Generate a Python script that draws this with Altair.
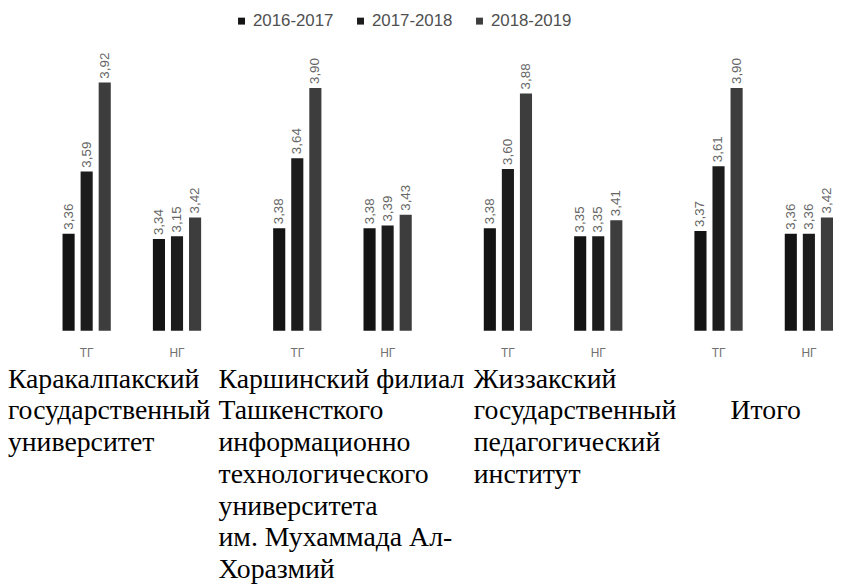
import altair as alt
import pandas as pd

universities = [
    "Каракалпакский|государственный|университет",
    "Каршинский филиал|Ташкенсткого|информационно|технологического|университета|им. Мухаммада Ал-|Хоразмий",
    "Жиззакский|государственный|педагогический|институт",
    "Итого",
]
subgroups = ["ТГ", "НГ"]
years = ["2016-2017", "2017-2018", "2018-2019"]

tg_2016 = [3.36, 3.38, 3.38, 3.37]
tg_2017 = [3.59, 3.64, 3.60, 3.61]
tg_2018 = [3.92, 3.90, 3.88, 3.90]
ng_2016 = [3.34, 3.38, 3.35, 3.36]
ng_2017 = [3.35, 3.39, 3.35, 3.36]
ng_2018 = [3.42, 3.43, 3.41, 3.42]
ng_2017_printed = ["3,15", "3,39", "3,35", "3,36"]

series = {
    ("ТГ", "2016-2017"): tg_2016,
    ("ТГ", "2017-2018"): tg_2017,
    ("ТГ", "2018-2019"): tg_2018,
    ("НГ", "2016-2017"): ng_2016,
    ("НГ", "2017-2018"): ng_2017,
    ("НГ", "2018-2019"): ng_2018,
}

rows = []
for i, u in enumerate(universities):
    for s in subgroups:
        for y in years:
            v = series[(s, y)][i]
            lab = f"{v:.2f}".replace(".", ",")
            if (s, y) == ("НГ", "2017-2018"):
                lab = ng_2017_printed[i]
            rows.append(dict(university=u, sub=s, year=y, key=f"{s}|{y}", value=v, label=lab))
df = pd.DataFrame(rows)

sub_rows = [dict(university=u, sub=s, key=f"{s}|2017-2018") for u in universities for s in subgroups]
df_sub = pd.DataFrame(sub_rows)

offset_domain = ["ТГ|2016-2017", "ТГ|2017-2018", "ТГ|2018-2019", "gap1", "gap2",
                 "НГ|2016-2017", "НГ|2017-2018", "НГ|2018-2019"]
colors = ["#141414", "#1c1c1c", "#3d3d3d"]
y_min = 3.0

x_enc = alt.X(
    "university:N",
    sort=universities,
    scale=alt.Scale(paddingInner=0.342, paddingOuter=0),
    axis=alt.Axis(
        title=None, domain=False, ticks=False, grid=False, labelAngle=0,
        labelExpr="split(datum.label, '|')",
        labelFont="Liberation Serif", labelFontSize=28, labelColor="#000000",
        labelLineHeight=32, labelBaseline="top", labelLimit=500, labelOverlap=False,
        labelAlign={"condition": {"test": "datum.value == 'Итого'", "value": "center"}, "value": "left"},
        labelOffset={"condition": [
            {"test": "datum.value == 'Итого'", "value": 2},
            {"test": "indexof(datum.value, 'Жиззакский') == 0", "value": -80}],
            "value": -125},
        labelPadding={"condition": {"test": "datum.value == 'Итого'", "value": 67}, "value": 35},
    ),
)
xo_enc = alt.XOffset("key:N", scale=alt.Scale(domain=offset_domain, paddingInner=0.33, paddingOuter=0))
y_enc = alt.Y("value:Q", scale=alt.Scale(domain=[y_min, 4.0], nice=False, zero=False), axis=None)

bars = alt.Chart(df).mark_bar().encode(
    x=x_enc, xOffset=xo_enc, y=y_enc, y2=alt.datum(y_min),
    color=alt.Color(
        "year:N", scale=alt.Scale(domain=years, range=colors),
        legend=alt.Legend(
            title=None, orient="none", direction="horizontal", columns=3,
            legendX=172, legendY=-49, padding=0,
            symbolType="square", symbolSize=49, symbolStrokeWidth=0, symbolOpacity=1,
            labelFont="Liberation Sans", labelFontSize=17, labelColor="#505050",
            labelOffset=3, columnPadding=18,
        ),
    ),
)

values = alt.Chart(df).mark_text(
    angle=270, align="left", baseline="middle", dx=4,
    font="Liberation Sans", fontSize=13.5, color="#666666",
).encode(x=x_enc, xOffset=xo_enc, y=y_enc, text="label:N")

subs = alt.Chart(df_sub).mark_text(
    baseline="middle", font="Liberation Sans", fontSize=12, color="#707070",
).encode(x=x_enc, xOffset=xo_enc, y=alt.value(294), text="sub:N")

chart = alt.layer(bars, values, subs).properties(
    width=777, height=272,
    autosize=alt.AutoSizeParams(type="none"),
    padding={"left": 55, "top": 51, "right": 0, "bottom": 262},
).configure(background="white").configure_view(stroke=None)

chart.save("out.html", embed_options={"renderer": "svg", "actions": False})
